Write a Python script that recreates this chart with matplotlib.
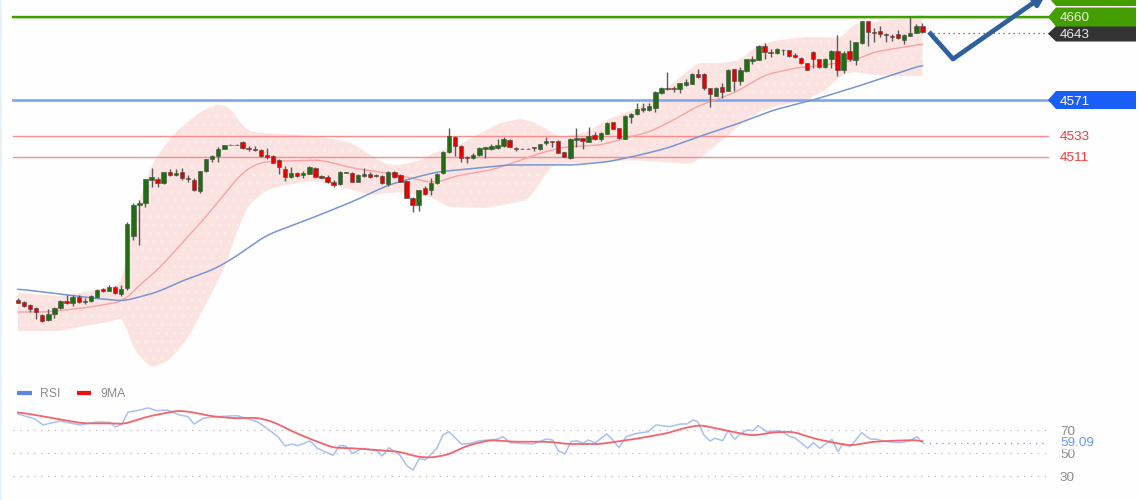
import matplotlib
matplotlib.use("Agg")
import matplotlib.pyplot as plt
from matplotlib.patches import FancyArrowPatch, Polygon
import numpy as np

plt.rcParams['font.family'] = ['Liberation Sans', 'DejaVu Sans']
plt.rcParams['hatch.linewidth'] = 0.4

# ---------- candles: open, high, low, close ----------
opens = [4357.8,4355.6,4352.1,4349.0,4341.8,4336.8,4342.9,4349.0,4356.7,4355.0,
 4360.7,4356.0,4357.0,4361.3,4369.2,4367.7,4372.0,4363.9,4370.3,4426.2,
 4459.3,4461.1,4486.0,4487.3,4483.1,4494.2,4491.0,4494.2,4488.4,4486.3,
 4474.5,4495.3,4508.1,4511.3,4519.4,4523.3,4523.3,4526.5,4520.4,4519.4,
 4518.3,4512.7,4511.3,4507.3,4497.4,4489.5,4493.8,4491.6,4492.7,4499.1,
 4490.2,4488.8,4483.8,4481.7,4493.4,4493.8,4483.8,4490.5,4492.4,4491.3,
 4490.2,4481.7,4494.5,4491.0,4485.2,4466.4,4459.3,4477.7,4475.3,4483.1,
 4493.1,4515.9,4531.9,4522.6,4510.9,4509.8,4512.3,4519.4,4518.8,4519.8,
 4522.6,4529.0,4520.4,4519.4,4519.4,4520.9,4518.8,4525.2,4527.6,4527.9,
 4515.5,4509.5,4528.7,4530.8,4526.9,4534.3,4529.8,4535.4,4547.6,4541.2,
 4530.1,4553.6,4556.1,4560.7,4560.7,4562.9,4578.6,4584.5,4584.5,4583.1,
 4587.7,4588.5,4599.2,4599.2,4583.9,4576.0,4585.0,4581.3,4604.2,4591.4,
 4602.0,4613.0,4614.1,4629.4,4623.0,4621.3,4624.5,4624.8,4619.1,4616.6,
 4610.6,4623.0,4614.9,4606.3,4614.9,4624.0,4603.4,4623.4,4614.1,4631.9,
 4656.1,4644.3,4645.4,4641.6,4640.1,4641.6,4635.5,4640.1,4643.3,4650.4]
highs = [4359.4,4356.7,4353.0,4349.8,4342.9,4348.2,4350.3,4357.3,4362.8,4362.8,
 4363.1,4359.6,4363.1,4369.5,4370.3,4373.8,4373.1,4373.8,4441.1,4461.4,
 4464.6,4487.0,4498.8,4488.8,4494.5,4498.0,4497.4,4498.8,4491.3,4487.8,
 4496.1,4508.4,4512.7,4521.5,4523.7,4523.9,4523.9,4527.3,4522.3,4522.6,
 4519.0,4520.5,4512.7,4508.7,4500.9,4500.2,4494.8,4495.9,4500.9,4499.8,
 4491.3,4491.0,4486.0,4495.6,4494.8,4494.5,4492.4,4498.4,4494.8,4492.4,
 4490.8,4495.3,4495.3,4492.4,4486.0,4468.1,4475.8,4479.6,4487.8,4493.8,
 4516.9,4541.2,4533.0,4523.3,4511.6,4514.5,4520.7,4521.5,4524.1,4529.4,
 4532.2,4529.8,4521.2,4519.6,4519.6,4521.2,4524.9,4532.2,4527.9,4528.7,
 4516.2,4530.3,4541.2,4531.3,4542.9,4536.9,4536.9,4547.9,4547.9,4541.5,
 4555.4,4557.2,4567.9,4567.9,4567.9,4580.5,4585.3,4601.6,4586.4,4589.6,
 4593.5,4599.7,4604.2,4599.7,4584.5,4585.3,4589.2,4604.0,4604.5,4607.0,
 4615.2,4618.4,4630.1,4632.0,4625.5,4627.3,4625.5,4625.3,4621.9,4617.3,
 4610.9,4623.2,4615.2,4616.3,4624.8,4640.8,4624.0,4635.5,4633.3,4656.3,
 4656.3,4648.0,4650.4,4643.0,4641.9,4646.2,4641.4,4659.7,4652.6,4654.0]
lows = [4354.6,4350.3,4345.3,4337.5,4334.6,4335.7,4338.3,4348.2,4353.2,4351.7,
 4354.3,4353.5,4356.0,4360.3,4366.3,4367.4,4364.2,4362.4,4369.0,4421.9,
 4416.5,4456.8,4478.8,4478.8,4482.2,4490.2,4490.2,4486.0,4484.1,4474.2,
 4472.4,4494.5,4504.9,4505.5,4519.0,4523.1,4523.1,4519.4,4517.3,4516.6,
 4511.0,4508.7,4503.8,4492.4,4484.9,4488.4,4488.8,4488.1,4492.0,4488.8,
 4487.8,4482.4,4478.2,4480.3,4493.1,4483.5,4483.3,4488.8,4488.4,4488.8,
 4481.7,4479.6,4488.1,4483.5,4466.4,4451.5,4452.9,4469.9,4469.9,4481.7,
 4492.4,4514.8,4511.9,4505.5,4503.8,4508.4,4511.6,4509.1,4518.0,4518.8,
 4521.5,4520.7,4517.3,4519.2,4519.2,4517.3,4518.0,4523.3,4520.9,4514.8,
 4510.0,4508.9,4521.5,4518.8,4526.2,4528.7,4527.6,4535.1,4540.4,4530.1,
 4529.8,4546.5,4555.0,4558.9,4560.0,4558.9,4577.8,4582.1,4580.3,4579.2,
 4586.4,4588.0,4594.6,4582.1,4564.2,4575.7,4573.9,4581.0,4581.0,4587.4,
 4601.3,4609.9,4613.6,4615.5,4617.6,4620.5,4619.1,4617.3,4615.9,4609.9,
 4603.4,4605.3,4606.1,4605.6,4605.3,4597.4,4600.6,4613.4,4608.8,4631.2,
 4629.1,4633.7,4639.0,4633.0,4634.7,4636.2,4631.2,4639.8,4642.6,4642.6]
closes = [4355.0,4351.4,4348.2,4345.3,4335.7,4343.2,4349.6,4356.7,4354.6,4361.3,
 4356.0,4357.0,4361.8,4368.5,4367.4,4371.4,4365.0,4369.5,4439.0,4459.3,
 4460.9,4486.7,4488.8,4483.1,4494.2,4491.0,4493.4,4488.1,4487.0,4475.3,
 4495.6,4508.1,4511.3,4519.4,4523.3,4523.4,4523.4,4520.4,4519.0,4517.7,
 4511.6,4510.5,4504.4,4500.2,4488.8,4493.1,4490.2,4493.8,4499.5,4489.5,
 4488.1,4483.5,4481.0,4494.5,4494.5,4484.1,4491.6,4492.4,4489.2,4490.2,
 4482.4,4494.5,4489.5,4484.1,4467.1,4459.3,4475.3,4471.0,4482.4,4492.4,
 4516.2,4533.0,4522.3,4509.1,4509.1,4513.0,4520.1,4521.2,4522.3,4523.3,
 4529.4,4521.2,4519.4,4519.4,4519.4,4519.8,4524.4,4527.6,4526.9,4515.1,
 4510.5,4529.8,4531.1,4527.9,4533.3,4529.4,4536.2,4547.2,4540.7,4530.5,
 4554.3,4556.4,4561.5,4563.2,4565.0,4580.0,4584.5,4582.8,4582.8,4589.2,
 4590.3,4599.2,4596.3,4583.9,4577.8,4584.5,4580.3,4603.4,4591.7,4603.4,
 4614.9,4615.2,4629.4,4622.3,4621.3,4625.5,4625.1,4618.4,4617.0,4610.6,
 4603.8,4614.9,4606.6,4615.5,4624.0,4603.4,4621.9,4614.9,4633.0,4655.8,
 4643.7,4643.3,4641.6,4640.5,4639.0,4637.9,4640.8,4642.6,4650.4,4643.7]

# ---------- Bollinger bands and moving averages (bar index, price) ----------
upper_i = [0,7,13,17,18,18.5,20,22,24,26,28,30,33,35,36.5,38,40,47,52,55,58.5,61,63,66.5,68.5,72.7,76.5,79.4,82.7,85,89.3,93.7,98,101.3,104.6,106.3,108.5,112,116,119,121.8,125.5,130,135.5,138,141,146.5,149]
upper_p = [4365.3,4362.1,4368.5,4374.9,4405.9,4430.4,4464.6,4502.0,4521.2,4537.2,4547.9,4558.6,4567.1,4562.9,4547.9,4538.3,4536.2,4534.0,4529.7,4525.5,4510.5,4502.0,4502.0,4507.3,4514.8,4523.3,4537.2,4546.8,4551.1,4547.9,4531.9,4537.2,4553.2,4560.7,4571.4,4579.9,4592.8,4610.9,4610.9,4614.1,4630.1,4635.5,4638.7,4637.6,4653.6,4654.7,4660.0,4662.2]
lower_i = [0,7,11,14,17.5,18,19.5,22,25,28,31,34,36.5,38,41,44,49,54,58,63,68,71,77,84,86,88,90.5,96,101,106,111,114,117,119.5,122,125,130,133,136,138,141,145,149]
lower_p = [4324.7,4324.7,4330.0,4333.2,4338.6,4322.6,4301.2,4285.2,4293.7,4317.2,4353.5,4392.0,4437.9,4459.3,4475.3,4480.6,4484.9,4477.4,4470.0,4473.1,4467.8,4457.1,4456.0,4464.6,4482.8,4502.0,4504.1,4504.1,4507.3,4505.2,4503.0,4518.0,4534.0,4547.9,4558.6,4565.0,4571.4,4582.1,4599.2,4601.3,4598.1,4597.0,4597.0]
middle_i = [0,5,12,17.5,20,23,30.5,37,40,44,50,55,61,66,69,72,78,82,86,90,96,99,104,108,112,118,123,128,133,138,141,149]
middle_p = [4345.0,4345.0,4350.3,4356.7,4373.8,4389.8,4443.2,4494.5,4505.2,4506.3,4507.3,4498.8,4493.4,4486.0,4482.8,4490.2,4496.6,4505.2,4514.8,4521.2,4523.3,4528.7,4537.2,4550.0,4565.0,4578.9,4598.1,4605.6,4608.8,4614.1,4622.7,4631.2]
ma_i = [0,7,12,17.5,23,27,32,35,41,48,55,61,65,69,74,80.5,86,91.5,97,102.5,107,112,118,124.5,131,138,149]
ma_p = [4369.5,4364.2,4360.0,4356.7,4366.3,4378.1,4389.8,4400.5,4427.2,4444.3,4462.5,4480.6,4488.0,4494.5,4497.7,4502.0,4502.0,4502.0,4505.2,4512.7,4520.1,4531.9,4544.7,4560.7,4571.4,4585.3,4608.8]

# ---------- RSI pane ----------
rsi_i = [0,2.8,4.1,6.9,10.2,13,15.2,16,17.1,18.1,20.1,21.4,22.9,24.5,26.7,28,29,30.5,32.8,36.1,39.4,41,42.8,44,45.1,46.1,48.1,49.3,51.9,53,53.9,55.2,56.7,59.1,60,61.1,62.9,64.1,65.1,66.1,67.1,69,70,71,73.1,74.5,76.1,78.9,79.9,81.1,84.8,87.1,88.1,89,90.1,91.1,92.1,93.1,93.9,95.1,97,98,99,100.2,102,103.8,105.1,107.4,109.1,110.2,111.2,112,113,114,114.8,116.1,117,118.1,118.9,120.1,121.1,121.9,123.4,125.5,127.2,128,130.1,131,132.1,134.1,135.1,135.9,137.1,139,140.4,141.5,143.2,145.3,147,148.1,149]
rsi_v = [83.9,79.6,74.4,77.8,74.4,77,76.7,72.6,75,85.4,87.4,89.2,86.8,87.4,83,81.6,75.2,80.2,81.6,82.5,77.2,71.5,64.2,56.1,57.8,56.4,60.4,54.1,48,56.4,56.1,49.7,54.1,52,47.4,54.6,48.3,38.7,35.2,45.4,43.9,54.1,65.7,68.5,57.6,58.4,60.7,61.9,64.2,59,57.8,62.2,61.3,52,49.1,59.8,60.7,58.4,61.3,59,66.5,61.3,54.6,64.2,67.1,68.5,74.4,72.9,75.2,75.2,78.7,77.2,65.7,60.4,62.8,60.7,69.4,61.9,66.5,70,69.4,73.8,68.5,69.4,64.2,63.3,54.1,59,54.1,61.9,51.1,58.4,55.5,67.7,62.2,61.9,59.8,59,60.7,64.2,59.09]
ma9_i = [0,2.8,6.4,10.7,15.7,17.3,21.3,26.2,28.3,31.6,35.4,39.4,42,45.3,48.6,51.9,55.2,59.1,62.9,65.7,67.9,70.7,74,77.8,81.5,87.6,90.4,95.9,101.3,106.9,109.6,112.4,115.7,118.9,121.1,124.4,127.7,131,134.3,137.1,140.9,144.2,148.1,149]
ma9_v = [85.4,83.1,79.6,75.8,75.8,75,81.6,86.8,85.9,82.2,80.2,80.7,77.2,68.5,61.3,54.6,54.1,52.6,51.1,46.8,45.9,48.3,56.4,61.3,59.8,59.8,57.8,57.8,61.9,67.1,71.5,74.4,70.6,67.1,65.1,68,68.5,62.8,59,56.4,59.8,60.7,61.3,59.8]
rsi_levels = [70, 50, 30]
rsi_last = 59.09
legend_labels = ['RSI', '9MA']

# ---------- price levels ----------
resistance = 4660
resistance_above = 4680
last_price = 4643
support_blue = 4571
support_red = [4533, 4511]

# ---------- pixel layout helpers ----------
W, H = 1140, 500
SPLIT = 380
X0, DX = 18.0, 6.07
PX_UNIT = 0.9363      # px per price unit
TOP_PRICE = 4678.2
RSI_PX = 1.15


def bx(px):
    return (px - X0) / DX


def py(px):
    return TOP_PRICE - px / PX_UNIT


def smooth_curve(xs_, ys_, grid_, win):
    """Round the corners between the read-off points when drawing a curve."""
    dense = np.interp(grid_, xs_, ys_)
    pad = win // 2
    padded = np.pad(dense, pad, mode='edge')
    return np.convolve(padded, np.ones(win) / win, mode='valid')


fig = plt.figure(figsize=(W / 100, H / 100), dpi=100, facecolor='#fefefe')
ax = fig.add_axes([0, 1 - SPLIT / H, 1, SPLIT / H])
ax2 = fig.add_axes([0, 0, 1, 1 - SPLIT / H])
for a in (ax, ax2):
    a.set_axis_off()
    a.patch.set_alpha(0)
    a.set_xlim(bx(0), bx(W))
ax.set_ylim(py(SPLIT), py(0))
ax2.set_ylim(50 - (H - 453) / RSI_PX, 50 + (453 - SPLIT) / RSI_PX)

# band
grid = np.arange(0, 149.01, 0.125)
up = smooth_curve(upper_i, upper_p, grid, 13)
lo = smooth_curve(lower_i, lower_p, grid, 13)
ax.fill_between(grid, lo, up, facecolor='#fbe3e1', edgecolor='#fdeeec', hatch='..',
                linewidth=0, zorder=1)

# level lines
ax.plot([bx(13), bx(1050)], [resistance - 0.9] * 2, color='#c9e6a8', lw=1.2, zorder=2)
ax.plot([bx(13), bx(1050)], [resistance] * 2, color='#3f9f00', lw=1.7, zorder=3)
ax.plot([bx(13), bx(1050)], [support_blue] * 2, color='#7ea6f2', lw=1.9, zorder=3)
for lv in support_red:
    ax.plot([bx(13), bx(1048)], [lv] * 2, color='#f98b8b', lw=1.0, zorder=2)
ax.plot([bx(928), bx(1050)], [last_price] * 2, color='#555555', lw=0.9,
        dashes=(1, 3), zorder=2)

# moving averages
ax.plot(grid, smooth_curve(middle_i, middle_p, grid, 25), color='#f9a3a3', lw=1.0, zorder=4)
ax.plot(grid, smooth_curve(ma_i, ma_p, grid, 25), color='#7896d2', lw=1.1, zorder=4)

# candles
xs = list(range(len(opens)))
ax.vlines(xs, lows, highs, color='#5a5a5a', lw=1.0, zorder=5)
for i, (o, c) in enumerate(zip(opens, closes)):
    if abs(o - c) < 0.3:
        col = '#888888'
    elif c > o:
        col = '#1f6f12'
    else:
        col = '#e80000'
    ax.bar(i, abs(c - o), bottom=min(o, c), width=0.72, color=col, edgecolor='#4a4a4a',
           linewidth=0.4, zorder=6)

# arrow
arrow_x = [bx(929), bx(953)]
arrow_y = [py(32), py(59)]
ax.plot(arrow_x, arrow_y, color='#2f5f9f', lw=3.4, solid_capstyle='butt', zorder=7)
ax.add_patch(FancyArrowPatch((bx(953), py(59)), (bx(1046), py(-6)), arrowstyle='-|>',
                             mutation_scale=16, lw=3.4, color='#2f5f9f', zorder=7,
                             shrinkA=0, shrinkB=0, clip_on=True))


def tag(price, top, bottom, face):
    mid = (top + bottom) / 2
    pts = [(bx(1048), py(mid)), (bx(1056), py(top)), (bx(1136), py(top)),
           (bx(1136), py(bottom)), (bx(1056), py(bottom))]
    ax.add_patch(Polygon(pts, closed=True, facecolor=face, edgecolor='none', zorder=8))


tag(resistance_above, -12, 6, '#449e00')
tag(last_price, 26, 41.5, '#333333')
tag(resistance, 7.5, 26.5, '#449e00')
tag(support_blue, 91, 109, '#1a5ff5')

for lv, col, px in [(resistance, '#e6f2d8', 16.5), (last_price, '#e8e8e8', 33),
                    (support_blue, '#ffffff', 100), (support_red[0], '#f53a3a', 135.5),
                    (support_red[1], '#f53a3a', 156)]:
    ax.text(bx(1060), py(px), str(lv), color=col, fontsize=9.7, ha='left',
            va='center_baseline', zorder=9)

# RSI pane
for lv in rsi_levels:
    ax2.plot([bx(13), bx(1046)], [lv, lv], color='#b8b8b8', lw=0.9, dashes=(1, 4.5), zorder=1)
ax2.plot([bx(923), bx(1046)], [rsi_last, rsi_last], color='#6a9cf0', lw=0.9,
         dashes=(1, 4), zorder=1)
ax2.plot(rsi_i, rsi_v, color='#a9c1ef', lw=1.1, zorder=2)
ax2.plot(grid, smooth_curve(ma9_i, ma9_v, grid, 17), color='#f4636d', lw=1.3, zorder=3)
for lv in rsi_levels:
    ax2.text(bx(1060), lv - 0.6, str(lv), color='#8c8c8c', fontsize=9.7, ha='left',
             va='center_baseline', zorder=4)
ax2.text(bx(1060), rsi_last + 0.6, f'{rsi_last:.2f}', color='#6a9cf0', fontsize=9.7, ha='left',
         va='center_baseline', zorder=5,
         bbox=dict(facecolor='#fefefe', edgecolor='none', pad=0.2, alpha=0.55))


# legend (in pixel terms)
def rsi_y(px):
    return 50 + (453 - px) / RSI_PX


ax2.plot([bx(17), bx(32)], [rsi_y(393)] * 2, color='#5b86e3', lw=3, solid_capstyle='butt')
ax2.plot([bx(77), bx(91)], [rsi_y(393)] * 2, color='#ee1111', lw=3, solid_capstyle='butt')
ax2.text(bx(40), rsi_y(392.5), legend_labels[0], color='#8c8c8c', fontsize=8.8, va='center_baseline')
ax2.text(bx(100), rsi_y(392.5), legend_labels[1], color='#8c8c8c', fontsize=8.8, va='center_baseline')

# faint left border of the original screenshot
fig.add_artist(plt.Line2D([0.0006, 0.0006], [0, 1], color='#e8f0f8', lw=1.5))

fig.savefig('out.png', dpi=100, facecolor=fig.get_facecolor())
